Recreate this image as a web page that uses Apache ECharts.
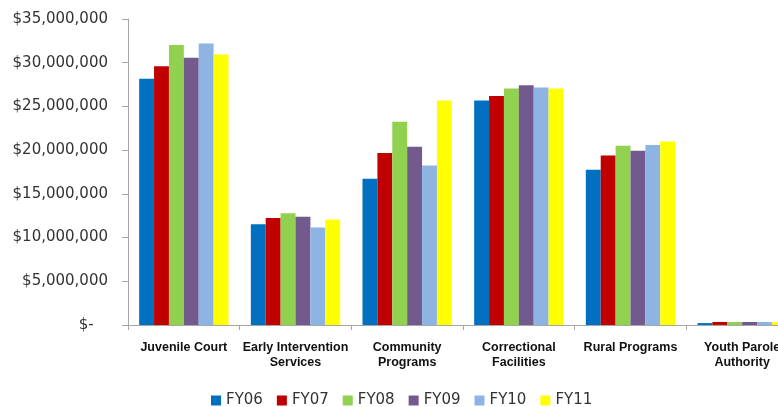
<!DOCTYPE html>
<html>
<head>
<meta charset="utf-8">
<script src="https://cdn.jsdelivr.net/npm/echarts@6/dist/echarts.min.js"></script>
<style>
html,body{margin:0;padding:0;background:#fff;overflow:hidden;width:778px;height:407px;}
#chart{width:800px;height:407px;}
</style>
</head>
<body>
<div id="chart"></div>
<script>
var categories = ["Juvenile Court", "Early Intervention\nServices", "Community\nPrograms", "Correctional\nFacilities", "Rural Programs", "Youth Parole\nAuthority"];
var seriesNames = ["FY06", "FY07", "FY08", "FY09", "FY10", "FY11"];
var fy06 = [28160000, 11530000, 16740000, 25680000, 17770000, 220000];
var fy07 = [29600000, 12250000, 19670000, 26180000, 19400000, 350000];
var fy08 = [32040000, 12790000, 23250000, 27050000, 20500000, 340000];
var fy09 = [30560000, 12370000, 20400000, 27430000, 19940000, 340000];
var fy10 = [32190000, 11150000, 18230000, 27170000, 20580000, 340000];
var fy11 = [30940000, 12060000, 25680000, 27050000, 21000000, 330000];
var yTicks = {min: 0, max: 35000000, interval: 5000000};
var colors = ["#0070C0", "#C00000", "#92D050", "#725A8F", "#8EB4E3", "#FFFF00"];

var values = [fy06, fy07, fy08, fy09, fy10, fy11];

function fmt(v) {
  if (v === 0) return "$-   ";
  var s = String(Math.round(v));
  return "$" + s.replace(/\B(?=(\d{3})+(?!\d))/g, ",");
}

var chart = echarts.init(document.getElementById("chart"), null, {renderer: "canvas", width: 800, height: 407});
chart.setOption({
  animation: false,
  color: colors,
  grid: {left: 128, right: 2, top: 19, bottom: 82, containLabel: false},
  legend: {
    data: seriesNames,
    left: 206,
    top: 388,
    icon: "rect",
    itemWidth: 10,
    itemHeight: 10,
    itemGap: 14,
    textStyle: {fontFamily: "DejaVu Sans", fontSize: 15, color: "#333"}
  },
  xAxis: {
    type: "category",
    data: categories,
    axisLine: {show: true, lineStyle: {color: "#A6A6A6", width: 1}},
    axisTick: {show: true, length: 5, lineStyle: {color: "#A6A6A6"}},
    axisLabel: {
      interval: 0,
      margin: 15,
      fontFamily: "Liberation Sans",
      fontWeight: "bold",
      fontSize: 12.5,
      lineHeight: 15,
      color: "#111"
    }
  },
  yAxis: {
    type: "value",
    min: yTicks.min,
    max: yTicks.max,
    interval: yTicks.interval,
    splitLine: {show: false},
    axisLine: {show: true, lineStyle: {color: "#A6A6A6", width: 1}},
    axisTick: {show: true, length: 6, lineStyle: {color: "#A6A6A6"}},
    axisLabel: {
      margin: 20,
      formatter: fmt,
      fontFamily: "DejaVu Sans",
      fontSize: 15,
      color: "#333"
    }
  },
  series: seriesNames.map(function (n, i) {
    return {
      name: n,
      type: "bar",
      data: values[i],
      barGap: "0%",
      barCategoryGap: "20%",
      itemStyle: {color: colors[i]}
    };
  })
});
</script>
</body>
</html>
